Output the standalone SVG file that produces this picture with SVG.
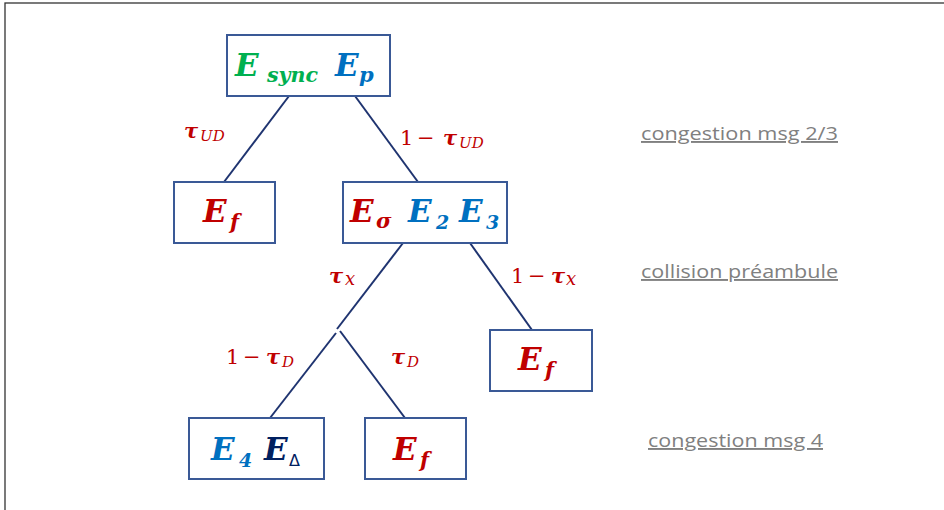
<svg xmlns="http://www.w3.org/2000/svg" width="944" height="510" viewBox="0 0 944 510">
<style>
.box{fill:#fff;stroke:#3A5996;stroke-width:2}
.edge{stroke:#1F3470;stroke-width:2;fill:none}
.m{font-family:"DejaVu Serif","Liberation Serif",serif;font-weight:bold;font-style:italic}
.big{font-size:31px}
.sub{font-size:21px}
.lab{font-size:21px}
.ls{font-size:15px;font-weight:normal;font-style:italic}
.rg{font-style:normal;font-weight:normal}
.g{fill:#00B050}.b{fill:#0070C0}.r{fill:#C00000}.n{fill:#002060}
.side{font-family:"Open Sans","Liberation Sans",sans-serif;font-size:19px;fill:#808080;text-decoration:underline}
</style>
<rect x="5" y="3" width="950" height="520" fill="none" stroke="#333" stroke-width="1.3"/>
<g id="connectors">
<line class="edge" x1="289" y1="96" x2="224" y2="182"/>
<line class="edge" x1="355" y1="96" x2="418" y2="182"/>
<line class="edge" x1="403" y1="243" x2="337" y2="329"/>
<line class="edge" x1="470" y1="243" x2="532" y2="330"/>
<line class="edge" x1="336" y1="333" x2="270" y2="418"/>
<line class="edge" x1="340" y1="331" x2="405" y2="418"/>
</g>
<g id="n-root">
<rect class="box" x="227" y="35" width="163" height="61"/>
<text class="m big g" x="235" y="76">E</text>
<text class="m sub g" x="267" y="82" textLength="51" lengthAdjust="spacingAndGlyphs">sync</text>
<text class="m big b" x="335" y="76">E</text>
<text class="m sub b" x="359" y="82">p</text>
</g>
<g id="n-ef1">
<rect class="box" x="174" y="182" width="101" height="61"/>
<text class="m big r" x="203" y="222">E</text>
<text class="m sub r" x="230" y="229">f</text>
</g>
<g id="n-e23">
<rect class="box" x="343" y="182" width="164" height="61"/>
<text class="m big r" x="350" y="222">E</text>
<text class="m sub r" x="376" y="228">σ</text>
<text class="m big b" x="408" y="222">E</text>
<text class="m sub b" x="436" y="229" style="font-size:19px">2</text>
<text class="m big b" x="459" y="222">E</text>
<text class="m sub b" x="486" y="229" style="font-size:19px">3</text>
</g>
<g id="n-ef2">
<rect class="box" x="490" y="330" width="102" height="61"/>
<text class="m big r" x="518" y="370">E</text>
<text class="m sub r" x="545" y="377">f</text>
</g>
<g id="n-e4">
<rect class="box" x="189" y="418" width="135" height="61"/>
<text class="m big b" x="211" y="460">E</text>
<text class="m sub b" x="239" y="467" style="font-size:19px">4</text>
<text class="m big n" x="264" y="460">E</text>
<text class="n" x="289" y="466" style="font-family:'DejaVu Sans',sans-serif;font-size:16px">Δ</text>
</g>
<g id="n-ef3">
<rect class="box" x="365" y="418" width="101" height="61"/>
<text class="m big r" x="393" y="460">E</text>
<text class="m sub r" x="420" y="467">f</text>
</g>
<g id="labels">
<text class="m lab r" x="184" y="138">τ<tspan class="ls" x="200" dy="3">UD</tspan></text>
<text class="m lab r" x="400" y="145"><tspan class="rg">1</tspan><tspan class="rg" x="417">−</tspan><tspan x="443">τ</tspan><tspan class="ls" x="459" dy="3">UD</tspan></text>
<text class="m lab r" x="329" y="283">τ<tspan class="ls" x="345" dy="2" style="font-size:18px">x</tspan></text>
<text class="m lab r" x="511" y="283"><tspan class="rg">1</tspan><tspan class="rg" x="528">−</tspan><tspan x="551">τ</tspan><tspan class="ls" x="566" dy="2" style="font-size:18px">x</tspan></text>
<text class="m lab r" x="226" y="364"><tspan class="rg">1</tspan><tspan class="rg" x="243">−</tspan><tspan x="266">τ</tspan><tspan class="ls" x="282" dy="3">D</tspan></text>
<text class="m lab r" x="391" y="364">τ<tspan class="ls" x="407" dy="3">D</tspan></text>
</g>
<g id="side">
<text class="side" x="641" y="140" textLength="197" lengthAdjust="spacingAndGlyphs">congestion msg 2/3</text>
<text class="side" x="641" y="278" textLength="197" lengthAdjust="spacingAndGlyphs">collision préambule</text>
<text class="side" x="648" y="447" textLength="175" lengthAdjust="spacingAndGlyphs">congestion msg 4</text>
</g>
</svg>
